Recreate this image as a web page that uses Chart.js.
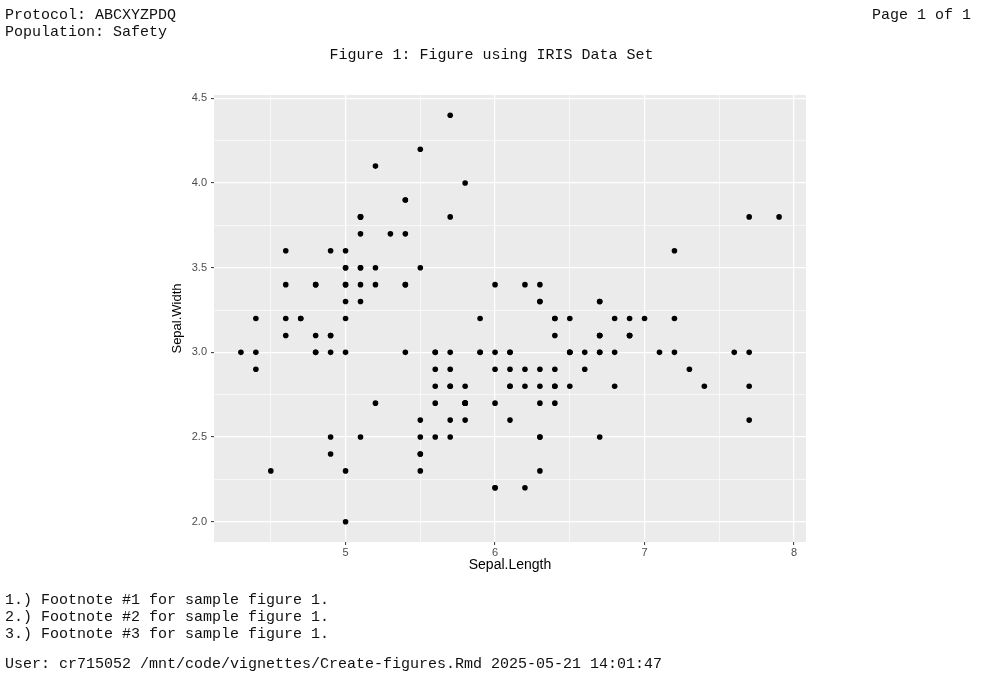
<!DOCTYPE html>
<html lang="en">
<head>
  <meta charset="UTF-8" />
  <title>Figure 1: Figure using IRIS Data Set</title>
  <script src="https://cdn.jsdelivr.net/npm/chart.js"></script>
  <style>
    body {
      margin: 0;
      padding: 0;
      background: #fff;
      width: 983px;
      height: 677px;
      overflow: hidden;
      position: relative;
    }
    .txt {
      position: absolute;
      font-family: 'Courier New', 'Liberation Mono', monospace;
      font-size: 15px;
      line-height: 17px;
      color: #111;
      white-space: pre;
    }
    #scatter {
      position: absolute;
      left: 0;
      top: 0;
    }
  </style>
</head>
<body>

  <canvas id="scatter" width="983" height="677"></canvas>

  <div class="txt" style="left:5px; top:7px;">Protocol: ABCXYZPDQ</div>
  <div class="txt" style="left:5px; top:24px;">Population: Safety</div>
  <div class="txt" style="right:12px; top:7px;">Page 1 of 1</div>
  <div class="txt" style="left:0; width:983px; text-align:center; top:47px;">Figure 1: Figure using IRIS Data Set</div>

  <div class="txt" style="left:5px; top:592px;">1.) Footnote #1 for sample figure 1.</div>
  <div class="txt" style="left:5px; top:609px;">2.) Footnote #2 for sample figure 1.</div>
  <div class="txt" style="left:5px; top:626px;">3.) Footnote #3 for sample figure 1.</div>
  <div class="txt" style="left:5px; top:656px;">User: cr715052 /mnt/code/vignettes/Create-figures.Rmd 2025-05-21 14:01:47</div>

  <script>
    // iris: Sepal.Length / Sepal.Width
    const sepalLength = [
      5.1, 4.9, 4.7, 4.6, 5.0, 5.4, 4.6, 5.0, 4.4, 4.9, 5.4, 4.8, 4.8, 4.3, 5.8, 5.7, 5.4, 5.1, 5.7, 5.1,
      5.4, 5.1, 4.6, 5.1, 4.8, 5.0, 5.0, 5.2, 5.2, 4.7, 4.8, 5.4, 5.2, 5.5, 4.9, 5.0, 5.5, 4.9, 4.4, 5.1,
      5.0, 4.5, 4.4, 5.0, 5.1, 4.8, 5.1, 4.6, 5.3, 5.0,
      7.0, 6.4, 6.9, 5.5, 6.5, 5.7, 6.3, 4.9, 6.6, 5.2, 5.0, 5.9, 6.0, 6.1, 5.6, 6.7, 5.6, 5.8, 6.2, 5.6,
      5.9, 6.1, 6.3, 6.1, 6.4, 6.6, 6.8, 6.7, 6.0, 5.7, 5.5, 5.5, 5.8, 6.0, 5.4, 6.0, 6.7, 6.3, 5.6, 5.5,
      5.5, 6.1, 5.8, 5.0, 5.6, 5.7, 5.7, 6.2, 5.1, 5.7,
      6.3, 5.8, 7.1, 6.3, 6.5, 7.6, 4.9, 7.3, 6.7, 7.2, 6.5, 6.4, 6.8, 5.7, 5.8, 6.4, 6.5, 7.7, 7.7, 6.0,
      6.9, 5.6, 7.7, 6.3, 6.7, 7.2, 6.2, 6.1, 6.4, 7.2, 7.4, 7.9, 6.4, 6.3, 6.1, 7.7, 6.3, 6.4, 6.0, 6.9,
      6.7, 6.9, 5.8, 6.8, 6.7, 6.7, 6.3, 6.5, 6.2, 5.9
    ];
    const sepalWidth = [
      3.5, 3.0, 3.2, 3.1, 3.6, 3.9, 3.4, 3.4, 2.9, 3.1, 3.7, 3.4, 3.0, 3.0, 4.0, 4.4, 3.9, 3.5, 3.8, 3.8,
      3.4, 3.7, 3.6, 3.3, 3.4, 3.0, 3.4, 3.5, 3.4, 3.2, 3.1, 3.4, 4.1, 4.2, 3.1, 3.2, 3.5, 3.6, 3.0, 3.4,
      3.5, 2.3, 3.2, 3.5, 3.8, 3.0, 3.8, 3.2, 3.7, 3.3,
      3.2, 3.2, 3.1, 2.3, 2.8, 2.8, 3.3, 2.4, 2.9, 2.7, 2.0, 3.0, 2.2, 2.9, 2.9, 3.1, 3.0, 2.7, 2.2, 2.5,
      3.2, 2.8, 2.5, 2.8, 2.9, 3.0, 2.8, 3.0, 2.9, 2.6, 2.4, 2.4, 2.7, 2.7, 3.0, 3.4, 3.1, 2.3, 3.0, 2.5,
      2.6, 3.0, 2.6, 2.3, 2.7, 3.0, 2.9, 2.9, 2.5, 2.8,
      3.3, 2.7, 3.0, 2.9, 3.0, 3.0, 2.5, 2.9, 2.5, 3.6, 3.2, 2.7, 3.0, 2.5, 2.8, 3.2, 3.0, 3.8, 2.6, 2.2,
      3.2, 2.8, 2.8, 2.7, 3.3, 3.2, 2.8, 3.0, 2.8, 3.0, 2.8, 3.8, 2.8, 2.8, 2.6, 3.0, 3.4, 3.1, 3.0, 3.1,
      3.1, 3.1, 2.7, 3.2, 3.3, 3.0, 2.5, 3.0, 3.4, 3.0
    ];

    const xBreaks = [4.5, 5, 5.5, 6, 6.5, 7, 7.5, 8];
    const xLabels = ['', '5', '', '6', '', '7', '', '8'];
    const yBreaks = [2, 2.25, 2.5, 2.75, 3, 3.25, 3.5, 3.75, 4, 4.25, 4.5];
    const yLabels = ['2.0', '', '2.5', '', '3.0', '', '3.5', '', '4.0', '', '4.5'];

    const points = sepalLength.map((x, i) => ({ x: x, y: sepalWidth[i] }));

    // grey panel behind the grid, like ggplot's theme_grey
    const panelBg = {
      id: 'panelBg',
      beforeDraw(chart) {
        const { ctx, chartArea: a } = chart;
        ctx.save();
        ctx.fillStyle = '#EBEBEB';
        ctx.fillRect(a.left, a.top, a.right - a.left, a.bottom - a.top);
        ctx.restore();
      }
    };

    const isMajor = (labels, idx) => labels[idx] !== '';

    const ctx = document.getElementById('scatter').getContext('2d');
    new Chart(ctx, {
      type: 'scatter',
      data: {
        datasets: [{
          data: points,
          backgroundColor: '#000',
          borderWidth: 0,
          pointRadius: 2.8,
          pointHoverRadius: 2.8
        }]
      },
      options: {
        responsive: false,
        animation: false,
        layout: { padding: { left: 170, top: 95, right: 177, bottom: 103 } },
        plugins: {
          legend: { display: false },
          tooltip: { enabled: false }
        },
        scales: {
          x: {
            type: 'linear',
            min: 4.12,
            max: 8.08,
            afterFit: s => { s.height = 32; },
            afterBuildTicks: s => { s.ticks = xBreaks.map(v => ({ value: v })); },
            border: { display: false },
            grid: {
              color: '#fff',
              lineWidth: c => isMajor(xLabels, c.index) ? 1.2 : 0.6,
              tickColor: c => isMajor(xLabels, c.index) ? '#333' : 'rgba(0,0,0,0)',
              tickLength: 3,
              tickWidth: 1
            },
            ticks: {
              autoSkip: false,
              maxRotation: 0,
              padding: 1,
              color: '#4D4D4D',
              font: { family: 'Liberation Sans', size: 11 },
              callback: (v, i) => xLabels[i]
            },
            title: {
              display: true,
              text: 'Sepal.Length',
              color: '#000',
              padding: 0,
              font: { family: 'Liberation Sans', size: 14 }
            }
          },
          y: {
            type: 'linear',
            min: 1.88,
            max: 4.52,
            afterFit: s => { s.width = 44; },
            afterBuildTicks: s => { s.ticks = yBreaks.map(v => ({ value: v })); },
            border: { display: false },
            grid: {
              color: '#fff',
              lineWidth: c => isMajor(yLabels, c.index) ? 1.2 : 0.6,
              tickColor: c => isMajor(yLabels, c.index) ? '#333' : 'rgba(0,0,0,0)',
              tickLength: 3,
              tickWidth: 1
            },
            ticks: {
              autoSkip: false,
              padding: 4,
              color: '#4D4D4D',
              font: { family: 'Liberation Sans', size: 11 },
              callback: (v, i) => yLabels[i]
            },
            title: {
              display: true,
              text: 'Sepal.Width',
              color: '#000',
              padding: 0,
              font: { family: 'Liberation Sans', size: 13 }
            }
          }
        }
      },
      plugins: [panelBg]
    });
  </script>

</body>
</html>
